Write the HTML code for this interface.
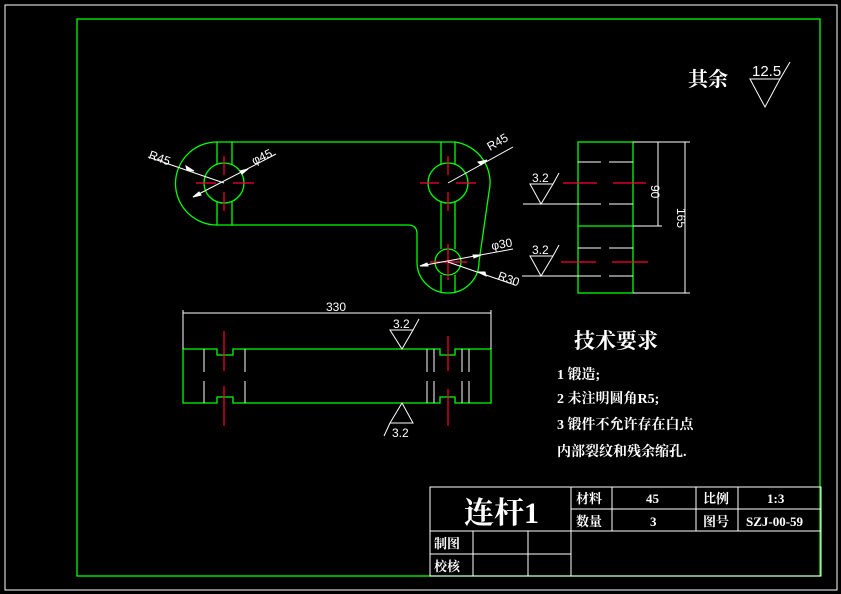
<!DOCTYPE html>
<html><head><meta charset="utf-8"><style>
html,body{margin:0;padding:0;background:#000;}
svg{display:block}
text{font-family:"Liberation Sans","Noto Sans CJK SC",sans-serif;fill:#fff}
.cj{font-family:"Liberation Serif","Noto Serif CJK SC",serif;font-weight:bold}
</style></head><body>
<svg width="841" height="594" viewBox="0 0 841 594" xmlns="http://www.w3.org/2000/svg">
<rect width="841" height="594" fill="#000"/>
<rect x="5" y="5" width="832" height="585" fill="none" stroke="#fff" stroke-width="1"/>
<rect x="77" y="19" width="743" height="557" fill="none" stroke="#0f0" stroke-width="1.3"/>

<!-- top view -->
<g fill="none" stroke="#0f0" stroke-width="1.3">
<path d="M217,142 L455,142 A41,41 0 0 1 489,192 L479,262 A31,31 0 0 1 417,262 L417,234 Q417,225 408,225 L217,225 A41.5,41.5 0 0 1 217,142 Z"/>
<circle cx="224" cy="183" r="20"/>
<circle cx="448" cy="183" r="20"/>
<circle cx="448" cy="262" r="13"/>
<path d="M217,142V164 M232,142V164 M217,202V225 M232,202V225 M441,142V164 M455,142V164 M441,202V249 M455,202V249 M441,275V293 M455,275V293"/>
</g>
<g stroke="#f03" stroke-width="1.2">
<path d="M196,183H216 M233,183H254 M224,156V175 M224,192V211"/>
<path d="M420,183H439 M456,183H476 M448,156V175 M448,192V211"/>
<path d="M430,262H467 M448,244V280"/>
</g>
<g stroke="#fff" stroke-width="1" fill="#fff">
<path d="M148,157 L224,183" /><path d="M194,171 l-8,-5 l1,4z"/>
<path d="M193,197 L276,154" /><path d="M193,197 l8,-2 l-2,-3z M248,169 l-8,2 l2,3z"/>
<path d="M448,183 L513,147"/><path d="M481,165 l6,-5 l-9,2z"/>
<path d="M420,266 L513,249"/><path d="M420,266 l8,0 l-1,-3z M481,255 l-8,0 l1,3z"/>
<path d="M448,262 L515,285"/><path d="M478,272 l8,4 l-1,-4z"/>
</g>
<text x="148" y="158" font-size="12" transform="rotate(20 148 158)">R45</text>
<text x="254" y="165" font-size="12" transform="rotate(-25 254 165)">φ45</text>
<text x="490" y="151" font-size="12" transform="rotate(-30 490 151)">R45</text>
<text x="492" y="250" font-size="12" transform="rotate(-10 492 250)">φ30</text>
<text x="497" y="279" font-size="12" transform="rotate(20 497 279)">R30</text>

<!-- front view -->
<path d="M183,349 H217 V355 H233 V349 H440 V355 H455 V349 H491 V403 H455 V397 H440 V403 H233 V397 H217 V403 H183 Z" fill="none" stroke="#0f0" stroke-width="1.3"/>
<g stroke="#fff" stroke-width="1">
<path d="M204,349V372 M204,381V403 M245,349V372 M245,381V403 M427,349V372 M427,381V403 M434,349V372 M434,381V403 M462,349V372 M462,381V403 M469,349V372 M469,381V403"/>
<path d="M183,310V349 M491,310V349 M183,313H491"/>
<path d="M390,330H413 L402,349 Z M413,330 L419,319" fill="none"/>
<path d="M390,423H413 L402,403 Z M390,423 L384,436" fill="none"/>
</g>
<g stroke="#f03" stroke-width="1.2"><path d="M224,331V371 M224,386V426 M448,336V371 M448,389V426"/></g>
<text x="326" y="311" font-size="12">330</text>
<text x="393" y="328" font-size="12">3.2</text>
<text x="392" y="437" font-size="12">3.2</text>

<!-- side view -->
<rect x="578" y="142" width="55" height="151" fill="none" stroke="#0f0" stroke-width="1.3"/>
<path d="M578,226H633" stroke="#0f0" stroke-width="1.3"/>
<g stroke="#fff" stroke-width="1" fill="none">
<path d="M578,162H601 M609,162H633 M523,204H601 M609,204H633 M578,248H601 M609,248H633 M522,276H601 M609,276H633"/>
<path d="M633,142H690 M633,226H662 M633,293H690 M658,142V226 M685,142V293"/>
<path d="M530,184H553 L541,204 Z M553,184 L559,173 M530,256H553 L541,276 Z M553,256 L559,245"/>
</g>
<g stroke="#f03" stroke-width="1.2"><path d="M563,183H597 M613,183H646 M561,262H596 M612,262H648"/></g>
<text x="532" y="182" font-size="12">3.2</text>
<text x="532" y="254" font-size="12">3.2</text>
<text x="651" y="185" font-size="12" transform="rotate(90 651 185)">90</text>
<text x="677" y="208" font-size="12" transform="rotate(90 677 208)">165</text>

<!-- roughness other -->
<text x="688" y="86" font-size="20" class="cj">其余</text>
<path d="M750,79H780 L765,107 Z M780,79 L790,62" stroke="#fff" fill="none"/>
<text x="752" y="76" font-size="15">12.5</text>

<!-- tech requirements -->
<text x="574" y="348" font-size="21" class="cj">技术要求</text>
<g font-size="14" class="cj">
<text x="557" y="379" class="cj">1 锻造;</text>
<text x="557" y="403" class="cj">2 未注明圆角R5;</text>
<text x="557" y="429" class="cj">3 锻件不允许存在白点</text>
<text x="557" y="456" class="cj">内部裂纹和残余缩孔.</text>
</g>

<!-- title block -->
<g stroke="#fff" stroke-width="1" fill="none">
<rect x="430" y="487" width="391" height="89"/>
<path d="M571,487V576 M571,509H821 M571,531H821 M430,531H571 M430,554H571 M473,531V576 M528,531V576 M612,487V531 M696,487V531 M738,487V531"/>
</g>
<text x="464" y="523" font-size="30" class="cj">连杆1</text>
<g font-size="13" class="cj">
<text x="576" y="503" class="cj">材料</text>
<text x="646" y="503" class="cj">45</text>
<text x="703" y="503" class="cj">比例</text>
<text x="767" y="503" class="cj">1:3</text>
<text x="576" y="526" class="cj">数量</text>
<text x="650" y="526" class="cj">3</text>
<text x="703" y="526" class="cj">图号</text>
<text x="746" y="526" class="cj">SZJ-00-59</text>
<text x="434" y="548" class="cj">制图</text>
<text x="434" y="571" class="cj">校核</text>
</g>
</svg>
</body></html>
